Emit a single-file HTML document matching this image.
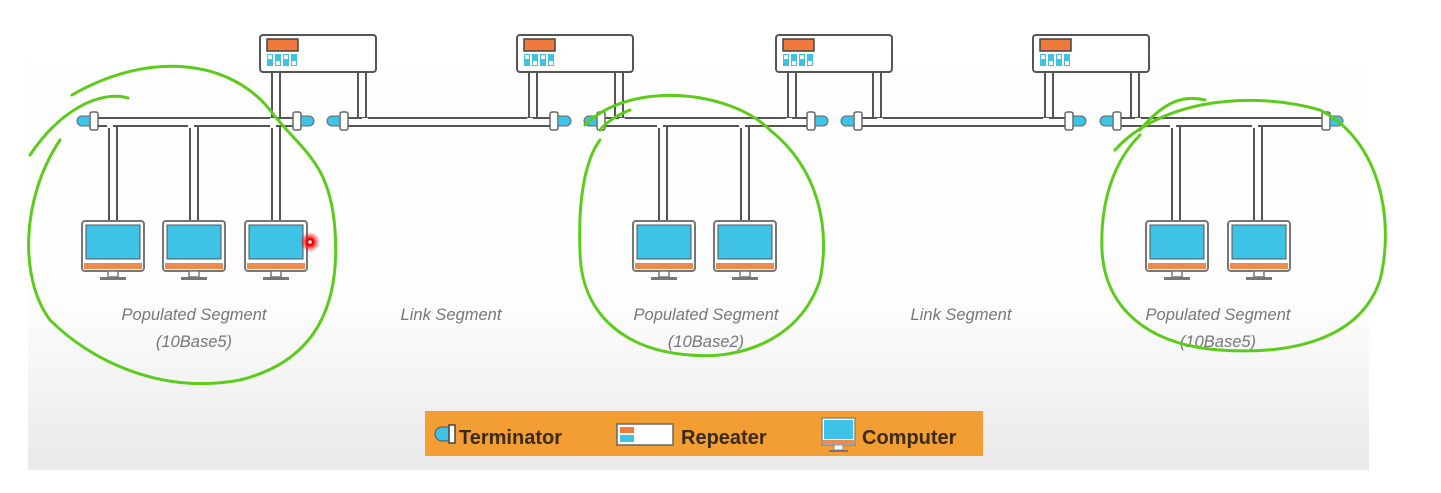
<!DOCTYPE html>
<html><head><meta charset="utf-8"><style>
html,body{margin:0;padding:0;background:#fff;}
svg{display:block}
</style></head><body>
<svg width="1441" height="493" viewBox="0 0 1441 493" xmlns="http://www.w3.org/2000/svg">
<defs>
<linearGradient id="bg" x1="0" y1="0" x2="0" y2="1">
<stop offset="0" stop-color="#ffffff"/><stop offset="0.65" stop-color="#fdfdfd"/><stop offset="1" stop-color="#e9e9e9"/>
</linearGradient>
<radialGradient id="glow"><stop offset="0.3" stop-color="#ff0000"/><stop offset="1" stop-color="#ff0000" stop-opacity="0"/></radialGradient>
<g id="pc">
<rect x="0" y="0" width="62" height="50" rx="3" fill="#fff" stroke="#777" stroke-width="2"/>
<rect x="4" y="4" width="54" height="34" fill="#3ec3e6" stroke="#555" stroke-width="1"/>
<rect x="2" y="42" width="58" height="6" fill="#f08a4c"/>
<rect x="26" y="50" width="10" height="6" fill="#fff" stroke="#777" stroke-width="1.5"/>
<rect x="18" y="56" width="26" height="3" fill="#777"/>
</g>
<g id="rep">
<rect x="0" y="0" width="116" height="37" rx="3" fill="#fff" stroke="#555" stroke-width="2"/>
<rect x="7" y="4" width="31" height="12" fill="#f07a3c" stroke="#444" stroke-width="1.5"/>
<g fill="#3ec3e6"><rect x="7" y="19" width="6" height="12"/><rect x="15" y="19" width="6" height="12"/><rect x="23" y="19" width="6" height="12"/><rect x="31" y="19" width="6" height="12"/></g>
<g fill="#fff"><rect x="8" y="20" width="4" height="4"/><rect x="16" y="26" width="4" height="4"/><rect x="24" y="20" width="4" height="4"/><rect x="32" y="26" width="4" height="4"/></g>
</g>
<g id="termR"><rect x="-3" y="-5" width="8" height="18" rx="2" fill="#fff" stroke="#666" stroke-width="1.5"/><path d="M5 -1 h8 a5 5 0 0 1 0 10 h-8 z" fill="#3ec3e6" stroke="#666" stroke-width="1"/></g>
<g id="termL"><rect x="-5" y="-5" width="8" height="18" rx="2" fill="#fff" stroke="#666" stroke-width="1.5"/><path d="M-5 -1 h-8 a5 5 0 0 0 0 10 h8 z" fill="#3ec3e6" stroke="#666" stroke-width="1"/></g>
</defs>
<rect x="0" y="0" width="1441" height="493" fill="#fff"/>
<rect x="28" y="0" width="1341" height="470" fill="url(#bg)"/>

<g stroke="#555" stroke-width="2" fill="none">
<path d="M90 118H300M90 126H300"/>
<path d="M343 118H556M343 126H556"/>
<path d="M600 118H813M600 126H813"/>
<path d="M857 118H1071M857 126H1071"/>
<path d="M1116 118H1328M1116 126H1328"/>
<path d="M272 72V118M280 72V118M358 72V118M366 72V118"/>
<path d="M529 72V118M537 72V118M615 72V118M623 72V118"/>
<path d="M788 72V118M796 72V118M873 72V118M881 72V118"/>
<path d="M1045 72V118M1053 72V118M1131 72V118M1139 72V118"/>
<path d="M109 126V220M117 126V220M190 126V220M198 126V220M272 126V220M280 126V220"/>
<path d="M659 126V220M667 126V220M741 126V220M749 126V220"/>
<path d="M1172 126V220M1180 126V220M1254 126V220M1262 126V220"/>
</g>
<g stroke="#fff" stroke-width="6">
<path d="M273 118V127M365 118V120M530 118V120M622 118V120M789 118V120M880 118V120M1046 118V120M1138 118V120"/>
<path d="M110 125V128M191 125V128M273 125V128M660 125V128M742 125V128M1173 125V128M1255 125V128"/>
</g>

<use href="#rep" x="260" y="35"/><use href="#rep" x="517" y="35"/><use href="#rep" x="776" y="35"/><use href="#rep" x="1033" y="35"/>

<use href="#termL" x="95" y="117"/><use href="#termR" x="296" y="117"/>
<use href="#termL" x="345" y="117"/><use href="#termR" x="553" y="117"/>
<use href="#termL" x="602" y="117"/><use href="#termR" x="810" y="117"/>
<use href="#termL" x="859" y="117"/><use href="#termR" x="1068" y="117"/>
<use href="#termL" x="1118" y="117"/><use href="#termR" x="1325" y="117"/>

<use href="#pc" x="82" y="221"/><use href="#pc" x="163" y="221"/><use href="#pc" x="245" y="221"/>
<use href="#pc" x="633" y="221"/><use href="#pc" x="714" y="221"/>
<use href="#pc" x="1146" y="221"/><use href="#pc" x="1228" y="221"/>

<circle cx="310" cy="242" r="10" fill="url(#glow)"/><circle cx="310" cy="242" r="4" fill="#e00"/><circle cx="310" cy="242" r="1.8" fill="#fff"/>

<g font-family="Liberation Sans, sans-serif" font-style="italic" font-size="16.5" fill="#777" text-anchor="middle">
<text x="194" y="320">Populated Segment</text><text x="194" y="347">(10Base5)</text>
<text x="451" y="320">Link Segment</text>
<text x="706" y="320">Populated Segment</text><text x="706" y="347">(10Base2)</text>
<text x="961" y="320">Link Segment</text>
<text x="1218" y="320">Populated Segment</text><text x="1218" y="347">(10Base5)</text>
</g>

<g fill="none" stroke="#5ccc1a" stroke-width="3" stroke-linecap="round">
<path d="M30 155 C60 110 100 90 128 98"/>
<path d="M72 95 C150 50 230 60 270 110 C300 150 330 160 335 230 C340 300 320 360 240 380 C160 395 90 360 50 320 C20 280 20 200 60 140"/>
<path d="M600 130 C610 118 625 112 630 110"/>
<path d="M585 125 C630 80 730 90 770 130 C820 170 830 230 820 280 C800 340 740 360 690 355 C620 350 580 310 580 250 C578 200 585 160 600 140"/>
<path d="M1140 130 C1165 100 1185 95 1205 100"/>
<path d="M1115 150 C1160 100 1250 90 1320 110 C1380 140 1395 220 1380 280 C1360 340 1290 355 1220 350 C1150 345 1105 310 1102 250 C1100 200 1115 160 1140 135"/>
</g>

<rect x="425" y="411" width="558" height="45" fill="#f29e32"/>
<g transform="translate(436,425)">
<path d="M6 2 h8 v14 h-8 a7 7 0 0 1 0 -14z" fill="#3ec3e6" stroke="#555" stroke-width="1"/>
<rect x="13" y="0" width="6" height="18" fill="#fff" stroke="#444" stroke-width="1.5"/>
</g>
<g transform="translate(617,424)">
<rect x="0" y="0" width="56" height="21" fill="#fff" stroke="#666" stroke-width="1.5"/>
<rect x="3" y="3" width="14" height="6" fill="#f07a3c"/>
<rect x="3" y="11" width="14" height="7" fill="#3ec3e6"/>
</g>
<g transform="translate(822,418)">
<rect x="0" y="0" width="33" height="27" fill="#fff" stroke="#888" stroke-width="1.5"/>
<rect x="2" y="2" width="29" height="19" fill="#3ec3e6"/>
<rect x="1" y="22" width="31" height="4" fill="#f08a4c"/>
<rect x="12" y="27" width="9" height="5" fill="#fff" stroke="#888"/>
<rect x="7" y="32" width="19" height="2" fill="#777"/>
</g>
<g font-family="Liberation Sans, sans-serif" font-weight="bold" font-size="20" fill="#3a2a1a">
<text x="459" y="444">Terminator</text>
<text x="681" y="444">Repeater</text>
<text x="862" y="444">Computer</text>
</g>
</svg>
</body></html>
